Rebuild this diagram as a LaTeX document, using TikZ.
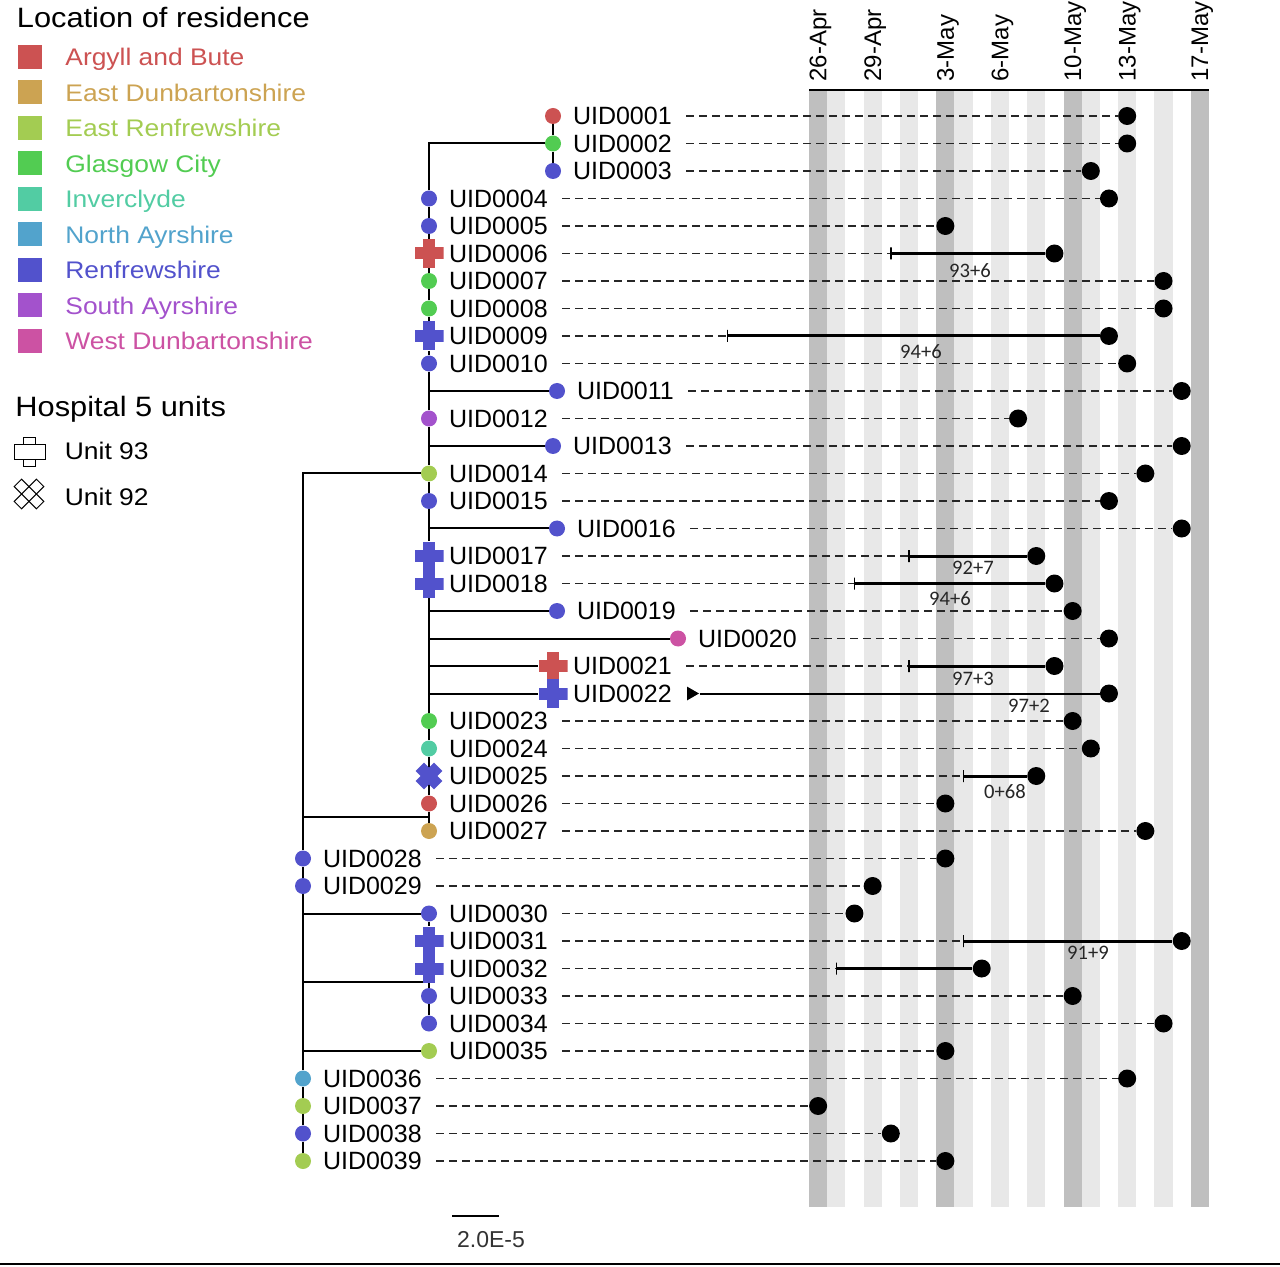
\documentclass[tikz,border=0pt]{standalone}
\usepackage{fontspec}
\setmainfont{Liberation Sans}
\newfontfamily\legfont[FakeStretch=1.1]{Liberation Sans}
\newfontfamily\staylabfont{Carlito}
\usepackage{tikz}
\usetikzlibrary{positioning,shapes.geometric}
\usepackage{xcolor}
\definecolor{cArgyll}{RGB}{204,82,82}
\definecolor{cEDunb}{RGB}{204,163,82}
\definecolor{cERenf}{RGB}{163,204,82}
\definecolor{cGlasgow}{RGB}{82,204,82}
\definecolor{cInver}{RGB}{82,204,163}
\definecolor{cNAyr}{RGB}{82,163,204}
\definecolor{cRenf}{RGB}{82,82,204}
\definecolor{cSAyr}{RGB}{163,82,204}
\definecolor{cWDunb}{RGB}{204,82,163}
\pgfdeclarelayer{bg}
\pgfsetlayers{bg,main}

\begin{document}
\begin{tikzpicture}[x=0.5pt,y=-0.5pt,
  dot/.style={circle,fill=#1,minimum size=8pt,inner sep=0pt},
  ward93/.style={rectangle,minimum size=14.5pt,inner sep=0pt,
    path picture={
      \fill[#1] ([xshift=-7.25pt,yshift=-3pt]path picture bounding box.center) rectangle ([xshift=7.25pt,yshift=3pt]path picture bounding box.center);
      \fill[#1] ([xshift=-3pt,yshift=-7.25pt]path picture bounding box.center) rectangle ([xshift=3pt,yshift=7.25pt]path picture bounding box.center);}},
  ward92/.style={rectangle,minimum size=14pt,inner sep=0pt,
    path picture={
      \draw[#1,line width=6pt] ([shift={(-4.6pt,-4.6pt)}]path picture bounding box.center) -- ([shift={(4.6pt,4.6pt)}]path picture bounding box.center);
      \draw[#1,line width=6pt] ([shift={(-4.6pt,4.6pt)}]path picture bounding box.center) -- ([shift={(4.6pt,-4.6pt)}]path picture bounding box.center);}},
  uid/.style={font=\fontsize{12.5}{14}\selectfont,inner sep=0pt},
  endpt/.style={circle,fill=black,minimum size=9pt,inner sep=0pt},
  guide/.style={black!85,line width=0.6pt,dash pattern=on 4pt off 2.5pt,shorten <=7pt},
  branch/.style={black,line width=1pt},
  tickmk/.style={draw,line width=0.7pt,minimum width=0pt,minimum height=6pt,inner sep=0pt},
  stay/.style={line width=1.5pt},
  staylab/.style={font=\staylabfont\fontsize{10.3}{12}\selectfont,text=black!85,inner sep=0pt},
  datelab/.style={font=\fontsize{12}{14}\selectfont,rotate=90,anchor=west,inner sep=0pt},
  stripedark/.style={fill=black!25},
  stripelight/.style={fill=black!9},
  legtitle/.style={font=\legfont\fontsize{14}{16}\selectfont,inner sep=0pt,text depth=0pt},
  legtxt/.style={font=\legfont\fontsize{12}{14}\selectfont,text=#1,inner sep=0pt,text depth=0pt},
  legsq/.style={rectangle,fill=#1,minimum size=12pt,inner sep=0pt,outer sep=0pt}]
\useasboundingbox (0,0) rectangle (1280,1267);

% legend: location
\node[legtitle,anchor=base west] (loctitle) at (16.5,28) {Location of residence};
\node[legsq=cArgyll] (k1) at (30,57) {};
\node[legsq=cEDunb,below=5.75pt of k1] (k2) {};
\node[legsq=cERenf,below=5.75pt of k2] (k3) {};
\node[legsq=cGlasgow,below=5.75pt of k3] (k4) {};
\node[legsq=cInver,below=5.75pt of k4] (k5) {};
\node[legsq=cNAyr,below=5.75pt of k5] (k6) {};
\node[legsq=cRenf,below=5.75pt of k6] (k7) {};
\node[legsq=cSAyr,below=5.75pt of k7] (k8) {};
\node[legsq=cWDunb,below=5.75pt of k8] (k9) {};
\node[legtxt=cArgyll,right=11.5pt of k1] (kt1) {Argyll and Bute};
\node[legtxt=cEDunb,right=11.5pt of k2] (kt2) {East Dunbartonshire};
\node[legtxt=cERenf,right=11.5pt of k3] (kt3) {East Renfrewshire};
\node[legtxt=cGlasgow,right=11.5pt of k4] (kt4) {Glasgow City};
\node[legtxt=cInver,right=11.5pt of k5] (kt5) {Inverclyde};
\node[legtxt=cNAyr,right=11.5pt of k6] (kt6) {North Ayrshire};
\node[legtxt=cRenf,right=11.5pt of k7] (kt7) {Renfrewshire};
\node[legtxt=cSAyr,right=11.5pt of k8] (kt8) {South Ayrshire};
\node[legtxt=cWDunb,right=11.5pt of k9] (kt9) {West Dunbartonshire};

% legend: units
\node[legtitle,anchor=base west] (hosptitle) at (15,417) {Hospital 5 units};
\draw[fill=white,line width=0.5pt] (23.5,438) rectangle (35.5,467);
\draw[fill=white,line width=0.5pt] (14,445) rectangle (45,460);
\node[legtxt=black,anchor=base west] (u93) at (64.5,459) {Unit 93};
\draw[line width=0.5pt,rotate around={45:(29,494)}] (13.25,488.75) rectangle (44.75,499.25);
\draw[line width=0.5pt,rotate around={-45:(29,494)}] (13.25,488.75) rectangle (44.75,499.25);
\node[legtxt=black,anchor=base west] (u92) at (64.5,506) {Unit 92};

% timeline stripes and dates
\foreach \d in {0,...,21}{
  \pgfmathtruncatemacro\wd{mod(\d,7)}
  \ifnum\wd=0 \fill[stripedark] ({809+18.18*\d},90) rectangle ({809+18.18*(\d+1)},1207);
  \else\ifodd\wd \fill[stripelight] ({809+18.18*\d},90) rectangle ({809+18.18*(\d+1)},1207);\fi\fi
}
\draw[line width=1.3pt] (809,90) -- (1209,90);
\foreach \d/\lab in {0/26-Apr,3/29-Apr,7/3-May,10/6-May,14/10-May,17/13-May,21/17-May}
  \node[datelab] (dl\d) at ({820.6+18.18*\d},82) {\lab};

% tips of the tree
\foreach \i/\mx/\col in {1/553/cArgyll,2/553/cGlasgow,3/553/cRenf,4/429/cRenf,5/429/cRenf,
    7/429/cGlasgow,8/429/cGlasgow,10/429/cRenf,11/557/cRenf,12/429/cSAyr,13/553/cRenf,
    14/429/cERenf,15/429/cRenf,16/557/cRenf,19/557/cRenf,20/678/cWDunb,23/429/cGlasgow,
    24/429/cInver,26/429/cArgyll,27/429/cEDunb,28/303/cRenf,29/303/cRenf,30/429/cRenf,
    33/429/cRenf,34/429/cRenf,35/429/cERenf,36/303/cNAyr,37/303/cERenf,38/303/cRenf,39/303/cERenf}
  \node[dot=\col] (m\i) at (\mx,{116+27.5*(\i-1)}) {};
\foreach \i/\mx/\col in {6/429/cArgyll,9/429/cRenf,17/429/cRenf,18/429/cRenf,
    21/553/cArgyll,22/553/cRenf,31/429/cRenf,32/429/cRenf}
  \node[ward93=\col] (m\i) at (\mx,{116+27.5*(\i-1)}) {};
\node[ward92=cRenf] (m25) at (429,776) {};
\foreach \i in {1,...,39}
  \node[uid,right=9.8pt of m\i.center] (l\i) {UID00\ifnum\i<10 0\fi\i};

% inner branch points
\coordinate (a2) at (m4 |- m2);
\foreach \i in {11,13,16,19,20,21,22} \coordinate (b\i) at (m4 |- m\i);
\coordinate (c27) at (429,817);
\coordinate (r14) at (m28 |- m14);
\coordinate (r27) at (303,817);
\coordinate (r30) at (m28 |- m30);
\coordinate (r33) at (303,982);
\coordinate (c33) at (429,982);
\coordinate (r35) at (m28 |- m35);

\begin{pgfonlayer}{bg}
\draw[branch] (m1) -- (m2) -- (m3);
\draw[branch] (m2) -- (a2) -- (m4) -- (m5) -- (m6) -- (m7) -- (m8) -- (m9) -- (m10) -- (b11) -- (m12) -- (b13) -- (m14) -- (m15) -- (b16) -- (m17) -- (m18) -- (b19) -- (b20) -- (b21) -- (b22) -- (m23) -- (m24) -- (m25.center) -- (m26) -- (c27) -- (m27);
\foreach \i in {11,13,16,19,20,21,22} \draw[branch] (b\i) -- (m\i);
\draw[branch] (m14) -- (r14) -- (r27) -- (m28) -- (m29) -- (r30) -- (r33) -- (r35) -- (m36) -- (m37) -- (m38) -- (m39);
\draw[branch] (r27) -- (c27);
\draw[branch] (r30) -- (m30) -- (m31) -- (m32) -- (c33) -- (m33) -- (m34);
\draw[branch] (r33) -- (c33);
\draw[branch] (r35) -- (m35);
\end{pgfonlayer}

% sampling dates
\foreach \i/\d in {1/17,2/17,3/15,4/16,5/7,6/13,7/19,8/19,9/16,10/17,11/20,12/11,13/20,
    14/18,15/16,16/20,17/12,18/13,19/14,20/16,21/13,22/16,23/14,24/15,25/12,26/7,27/18,
    28/7,29/3,30/2,31/20,32/9,33/14,34/19,35/7,36/17,37/0,38/4,39/7}
  \node[endpt] (e\i) at ({818.1+18.18*\d},{116+27.5*(\i-1)}) {};
\foreach \i in {1,2,3,4,5,7,8,10,11,12,13,14,15,16,19,20,23,24,26,27,28,29,30,33,34,35,36,37,38,39}
  \draw[guide] (l\i) -- (e\i);

% ward stays
\foreach \i/\d in {6/4,9/-5,17/5,18/2,21/5,25/8,31/8,32/1}{
  \node[tickmk] (t\i) at ({818.1+18.18*\d},{116+27.5*(\i-1)}) {};
  \draw[guide] (l\i) -- (t\i);
  \draw[stay] (t\i) -- (e\i);
}
\node[regular polygon,regular polygon sides=3,shape border rotate=-90,fill=black,minimum size=8pt,inner sep=0pt] (w22) at (691,693.5) {};
\draw[line width=1pt] (w22) -- (e22);
\node[staylab] (s6) at (970,271) {93+6};
\node[staylab] (s9) at (921,352) {94+6};
\node[staylab] (s17) at (973,568) {92+7};
\node[staylab] (s18) at (950,599) {94+6};
\node[staylab] (s21) at (973,679) {97+3};
\node[staylab] (s22) at (1029,706) {97+2};
\node[staylab] (s25) at (1005,792) {0+68};
\node[staylab] (s31) at (1088,953) {91+9};

% scale bar
\draw[line width=1.2pt] (452,1216) -- (499,1216);
\node[font=\fontsize{11.5}{13}\selectfont,text=black!80,inner sep=0pt] (sbar) at (491,1240) {2.0E-5};
\draw[line width=0.8pt] (0,1264) -- (1280,1264);
\end{tikzpicture}
\end{document}
